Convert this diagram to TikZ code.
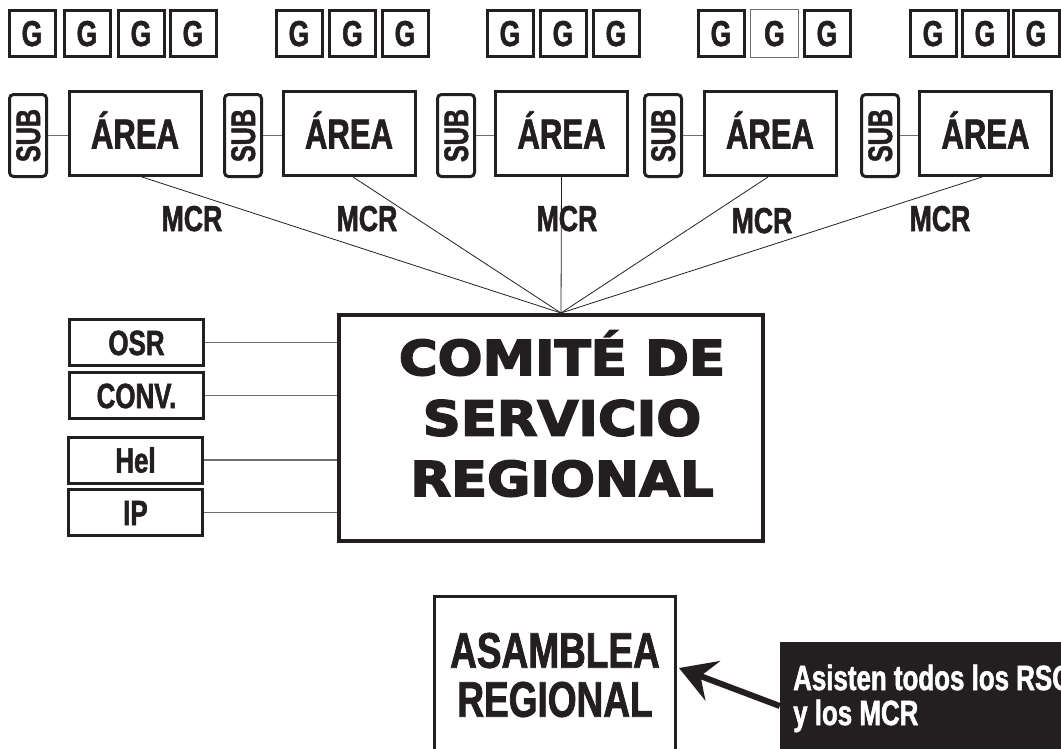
\documentclass[tikz,border=0pt]{standalone}
\usepackage{fontspec}
\usetikzlibrary{arrows.meta,calc}
\newfontfamily\cond[FakeStretch=0.74,FakeBold=1.5]{Liberation Sans Bold}
\newfontfamily\heavy[FakeStretch=1.1,FakeBold=3.5]{DejaVu Sans Bold}
\definecolor{ink}{HTML}{231F20}
\definecolor{thin}{HTML}{6D6E71}
\begin{document}
\begin{tikzpicture}[x=1pt,y=-1pt,
  gbox/.style={draw=ink, line width=3pt, minimum width=46pt, minimum height=46pt, inner sep=0pt, text=ink, font=\cond\fontsize{36}{36}\selectfont, text height=25pt, text depth=0pt},
  gthin/.style={gbox, line width=1pt, draw=thin, minimum width=48pt, minimum height=48pt},
  subbox/.style={draw=ink, line width=3pt, rounded corners=4pt, rotate=90, minimum width=82pt, minimum height=37pt, inner sep=0pt, text=ink, font=\cond\fontsize{34}{34}\selectfont, text height=24pt, text depth=0pt},
  areabox/.style={draw=ink, line width=3pt, minimum width=132pt, minimum height=84pt, inner sep=0pt, text=ink, font=\cond\fontsize{42}{42}\selectfont, text height=30pt, text depth=0pt},
  mcr/.style={text=ink, inner sep=0pt, font=\cond\fontsize{36}{36}\selectfont, text height=26pt, text depth=0pt},
  sidebox/.style={draw=ink, line width=3pt, minimum width=134pt, minimum height=46pt, inner sep=0pt, text=ink, font=\cond\fontsize{35}{35}\selectfont, text height=25pt, text depth=0pt},
  bigbox/.style={draw=ink, line width=4pt, inner sep=0pt},
  heavytext/.style={text=ink, inner sep=0pt, font=\heavy\fontsize{48}{48}\selectfont},
  asmbox/.style={draw=ink, line width=3pt, minimum width=241pt, minimum height=157pt, inner sep=0pt, align=center, text=ink, font=\cond\fontsize{50}{49}\selectfont},
  blackbox/.style={fill=ink, draw=none, minimum width=300pt, minimum height=128pt, inner sep=0pt},
  whitetext/.style={text=white, inner sep=0pt, font=\cond\fontsize{35}{35}\selectfont},
  mcrline/.style={draw=ink, line width=0.8pt},
  graylink/.style={draw=thin, line width=1.5pt},
  bigarrow/.style={draw=ink, line width=6pt, -{Stealth[length=36pt,width=42pt,inset=13pt]}}
]
\useasboundingbox (0,0) rectangle (1061,748);
\clip (0,0) rectangle (1061,748);

% G boxes
\node[gbox] (g1) at (32,33.5) {G};
\node[gbox] (g2) at (87,33.5) {G};
\node[gbox] (g3) at (141,33.5) {G};
\node[gbox] (g4) at (193,33.5) {G};
\node[gbox] (g5) at (299,33.5) {G};
\node[gbox] (g6) at (352.5,33.5) {G};
\node[gbox] (g7) at (405,33.5) {G};
\node[gbox] (g8) at (510,33.5) {G};
\node[gbox] (g9) at (563,33.5) {G};
\node[gbox] (g10) at (616,33.5) {G};
\node[gbox] (g11) at (721,33.5) {G};
\node[gthin] (g12) at (774.5,33.5) {G};
\node[gbox] (g13) at (827,33.5) {G};
\node[gbox] (g14) at (933,33.5) {G};
\node[gbox] (g15) at (985,33.5) {G};
\node[gbox] (g16) at (1036,33.5) {G};

% SUB and AREA
\node[subbox] (s1) at (28,135.5) {SUB};
\node[subbox] (s2) at (243,135.5) {SUB};
\node[subbox] (s3) at (456,135.5) {SUB};
\node[subbox] (s4) at (663,135.5) {SUB};
\node[subbox] (s5) at (880,135.5) {SUB};
\node[areabox] (a1) at (135,133.5) {ÁREA};
\node[areabox] (a2) at (349,133.5) {ÁREA};
\node[areabox] (a3) at (561.5,133.5) {ÁREA};
\node[areabox] (a4) at (770,133.5) {ÁREA};
\node[areabox] (a5) at (985.5,133.5) {ÁREA};
\foreach \i in {1,...,5} {
  \draw[graylink] (s\i.south) -- (s\i.south -| a\i.west);
}

% Comite
\node[bigbox, minimum width=424pt, minimum height=226pt] (comite) at (551,428) {};
\coordinate (apex) at (561,313);
\node[heavytext, anchor=base] (c1) at (562,375) {COMITÉ DE};
\node[heavytext, anchor=base] (c2) at (562,435.5) {SERVICIO};
\node[heavytext, anchor=base] (c3) at (562,496) {REGIONAL};

% MCR lines
\draw[mcrline] ($(a1.south)+(7,0)$) -- (apex);
\draw[mcrline] ($(a2.south)+(4,0)$) -- (apex);
\draw[mcrline] (a3.south) -- (apex);
\draw[mcrline] ($(a4.south)+(-2,0)$) -- (apex);
\draw[mcrline] ($(a5.south)+(-3.5,0)$) -- (apex);
\node[mcr] (m1) at (192,218) {MCR};
\node[mcr] (m2) at (367,218) {MCR};
\node[mcr] (m3) at (567,218) {MCR};
\node[mcr] (m4) at (762,220) {MCR};
\node[mcr] (m5) at (940,218) {MCR};

% side boxes
\node[sidebox] (osr) at (136.5,342.5) {OSR};
\node[sidebox] (conv) at (136.5,395.5) {CONV.};
\node[sidebox] (hel) at (135.5,460) {Hel};
\node[sidebox] (ip) at (135.5,512.5) {IP};
\foreach \n in {osr,conv,hel,ip} {
  \draw[graylink] (\n.east) -- (\n.east -| comite.west);
}

% Asamblea
\node[asmbox] (asm) at (555,675) {ASAMBLEA\\REGIONAL};
\node[blackbox] (blk) at (930,706) {};
\node[whitetext, anchor=base west] (t1) at (793,690) {Asisten todos los RSG};
\node[whitetext, anchor=base west] (t2) at (793,725) {y los MCR};
\draw[bigarrow] (blk.west) -- ($(asm.east)+(2,-7)$);
\end{tikzpicture}
\end{document}
